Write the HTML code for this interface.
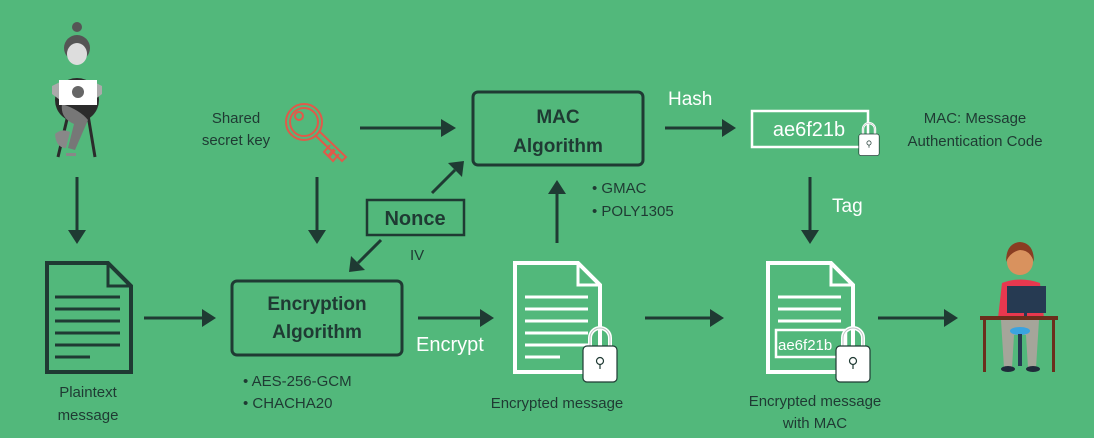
<!DOCTYPE html>
<html><head><meta charset="utf-8"><style>
html,body{margin:0;padding:0;background:#52b87b;}
svg{display:block;font-family:"Liberation Sans",sans-serif;}
</style></head><body>
<svg width="1094" height="438" viewBox="0 0 1094 438" xmlns="http://www.w3.org/2000/svg">
<defs>
<marker id="ah" markerWidth="10" markerHeight="10" refX="8" refY="5" orient="auto" markerUnits="userSpaceOnUse">
<path d="M0,0 L10,5 L0,10 Z" fill="#1f3a33" transform="scale(1)"/>
</marker>
<g id="lock">
<path d="M-10,12 V2 a10,10 0 0 1 20,0 V12" fill="none" stroke="#fff" stroke-width="4"/>
<path d="M-10,12 V2 a10,10 0 0 1 20,0 V12" fill="none" stroke="#1f3a33" stroke-width="1" opacity="0.3"/>
<rect x="-17" y="10" width="34" height="36" rx="4" fill="#fff" stroke="#1f3a33" stroke-width="1.2"/>
<circle cx="0" cy="25" r="3.5" fill="none" stroke="#1f3a33" stroke-width="1.2"/>
<line x1="0" y1="28" x2="0" y2="33" stroke="#1f3a33" stroke-width="1.2"/>
</g>
</defs>
<rect width="1094" height="438" fill="#52b87b"/>
<g stroke="#1f3a33" stroke-width="3" fill="none">
<!-- arrows -->
<path d="M77,177 V232"/><path d="M68,230 L77,244 L86,230 Z" fill="#1f3a33" stroke="none"/>
<path d="M317,177 V232"/><path d="M308,230 L317,244 L326,230 Z" fill="#1f3a33" stroke="none"/>
<path d="M144,318 H204"/><path d="M202,309 L216,318 L202,327 Z" fill="#1f3a33" stroke="none"/>
<path d="M360,128 H443"/><path d="M441,119 L456,128 L441,137 Z" fill="#1f3a33" stroke="none"/>
<path d="M418,318 H482"/><path d="M480,309 L494,318 L480,327 Z" fill="#1f3a33" stroke="none"/>
<path d="M645,318 H712"/><path d="M710,309 L724,318 L710,327 Z" fill="#1f3a33" stroke="none"/>
<path d="M878,318 H946"/><path d="M944,309 L958,318 L944,327 Z" fill="#1f3a33" stroke="none"/>
<path d="M665,128 H724"/><path d="M722,119 L736,128 L722,137 Z" fill="#1f3a33" stroke="none"/>
<path d="M810,177 V232"/><path d="M801,230 L810,244 L819,230 Z" fill="#1f3a33" stroke="none"/>
<path d="M557,243 V192"/><path d="M548,194 L557,180 L566,194 Z" fill="#1f3a33" stroke="none"/>
<path d="M432,193 L455,170"/><path d="M448,163 L464,161 L462,177 Z" fill="#1f3a33" stroke="none"/>
<path d="M381,240 L358,263"/><path d="M351,256 L349,272 L365,270 Z" fill="#1f3a33" stroke="none"/>
<!-- boxes -->
<rect x="232" y="281" width="170" height="74" rx="5"/>
<rect x="473" y="92" width="170" height="73" rx="5"/>
<rect x="367" y="200" width="97" height="35" stroke-width="2.5"/>
<!-- plaintext doc -->
<path d="M47,263 H108 L131,286 V372 H47 Z" stroke-width="4"/>
<path d="M108,263 V286 H131" stroke-width="3"/>
<g stroke-width="3"><path d="M55,297 H120 M55,309 H120 M55,321 H120 M55,333 H120 M55,345 H120 M55,357 H90"/></g>
</g>
<!-- white docs -->
<g stroke="#fff" fill="none">
<path d="M515,263 H578 L600,285 V372 H515 Z" stroke-width="4"/>
<path d="M578,263 V285 H600" stroke-width="3"/>
<path d="M525,297 H588 M525,309 H588 M525,321 H588 M525,333 H588 M525,345 H588 M525,357 H560" stroke-width="3"/>
<path d="M768,263 H831 L853,285 V372 H768 Z" stroke-width="4"/>
<path d="M831,263 V285 H853" stroke-width="3"/>
<path d="M778,297 H841 M778,309 H841 M778,321 H841" stroke-width="3"/>
<rect x="776" y="330" width="70" height="27" stroke-width="2.5"/>
<rect x="752" y="111" width="116" height="36" stroke-width="2.5"/>
</g>
<text x="778" y="350" font-size="15" fill="#fff">ae6f21b</text>
<text x="809" y="136" font-size="20" fill="#fff" text-anchor="middle">ae6f21b</text>
<use href="#lock" x="600" y="336"/>
<use href="#lock" x="853" y="336"/>
<g transform="translate(869,128) scale(0.6)"><use href="#lock"/></g>
<!-- key -->
<g stroke="#e05a4a" fill="none" stroke-width="2">
<circle cx="304" cy="122" r="18"/><circle cx="304" cy="122" r="14"/>
<circle cx="299" cy="116" r="4"/>
<path d="M315,135 L342,161 L346,157 L319,131"/>
<path d="M330,145 L324,152 L328,156 L334,149 M335,150 L329,157 L333,161 L339,154"/>
</g>
<!-- texts -->
<g fill="#1f3a33" font-size="15" text-anchor="middle">
<text x="236" y="123">Shared</text><text x="236" y="145">secret key</text>
<text x="88" y="397">Plaintext</text><text x="88" y="420">message</text>
<text x="557" y="408">Encrypted message</text>
<text x="815" y="406">Encrypted message</text><text x="815" y="428">with MAC</text>
<text x="975" y="123">MAC: Message</text><text x="975" y="146">Authentication Code</text>
</g>
<g fill="#1f3a33" font-size="19" font-weight="bold" text-anchor="middle">
<text x="317" y="310">Encryption</text><text x="317" y="338">Algorithm</text>
<text x="558" y="123">MAC</text><text x="558" y="152">Algorithm</text>
<text x="415" y="225" font-size="20">Nonce</text>
</g>
<g fill="#1f3a33" font-size="15">
<text x="243" y="386">• AES-256-GCM</text><text x="243" y="408">• CHACHA20</text>
<text x="592" y="193">• GMAC</text><text x="592" y="216">• POLY1305</text>
<text x="410" y="260">IV</text>
</g>
<g fill="#fff" font-size="19">
<text x="668" y="105">Hash</text>
<text x="832" y="212">Tag</text>
<text x="416" y="351" font-size="20">Encrypt</text>
</g>
<!-- woman -->
<g>
<circle cx="77" cy="100" r="22" fill="#2b2b2b"/>
<path d="M68,115 L58,157 M88,115 L95,157" stroke="#2b2b2b" stroke-width="3"/>
<path d="M62,104 Q80,110 88,120 L75,150 L68,148 L74,124 Q60,118 62,104Z" fill="#777"/>
<path d="M55,134 Q62,128 70,132 L66,148 Q56,148 55,134Z" fill="#888"/>
<path d="M64,88 Q77,78 90,88 L92,100 H62 Z" fill="#999"/>
<circle cx="77" cy="27" r="5" fill="#555"/>
<circle cx="77" cy="48" r="13" fill="#555"/>
<ellipse cx="77" cy="54" rx="10" ry="11" fill="#ddd"/>
<path d="M52,86 L60,82 L60,100 L52,94 Z M102,86 L94,82 L94,100 L102,94 Z" fill="#aaa"/>
<rect x="59" y="80" width="38" height="25" fill="#fff"/>
<circle cx="78" cy="92" r="6" fill="#666"/>
<rect x="66" y="153" width="10" height="3" fill="#888"/>
</g>
<!-- man -->
<g>
<path d="M1000,325 L994,372 M1055,325 L1050,372" stroke="#888" stroke-width="0"/>
<path d="M1002,283 Q1020,276 1040,283 L1044,318 H998 Z" fill="#e8384f"/>
<circle cx="1020" cy="262" r="13" fill="#d9925e"/>
<path d="M1006,262 Q1006,243 1020,242 Q1034,243 1034,262 Q1030,250 1020,250 Q1010,252 1006,262Z" fill="#8a3d22"/>
<rect x="1007" y="286" width="39" height="27" fill="#263a52"/>
<rect x="1024" y="313" width="3" height="4" fill="#263a52"/>
<rect x="980" y="316" width="78" height="4" fill="#6b2e1c"/>
<rect x="983" y="320" width="3" height="52" fill="#6b2e1c"/>
<rect x="1052" y="320" width="3" height="52" fill="#6b2e1c"/>
<path d="M1001,320 H1039 L1036,368 H1028 L1026,335 H1014 L1012,368 H1004 Z" fill="#a5a59a"/>
<ellipse cx="1020" cy="331" rx="10" ry="4" fill="#3aa3e0"/>
<rect x="1018" y="334" width="4" height="32" fill="#263a52"/>
<ellipse cx="1008" cy="369" rx="7" ry="3" fill="#1f2b3a"/>
<ellipse cx="1033" cy="369" rx="7" ry="3" fill="#1f2b3a"/>
</g>
</svg>
</body></html>
